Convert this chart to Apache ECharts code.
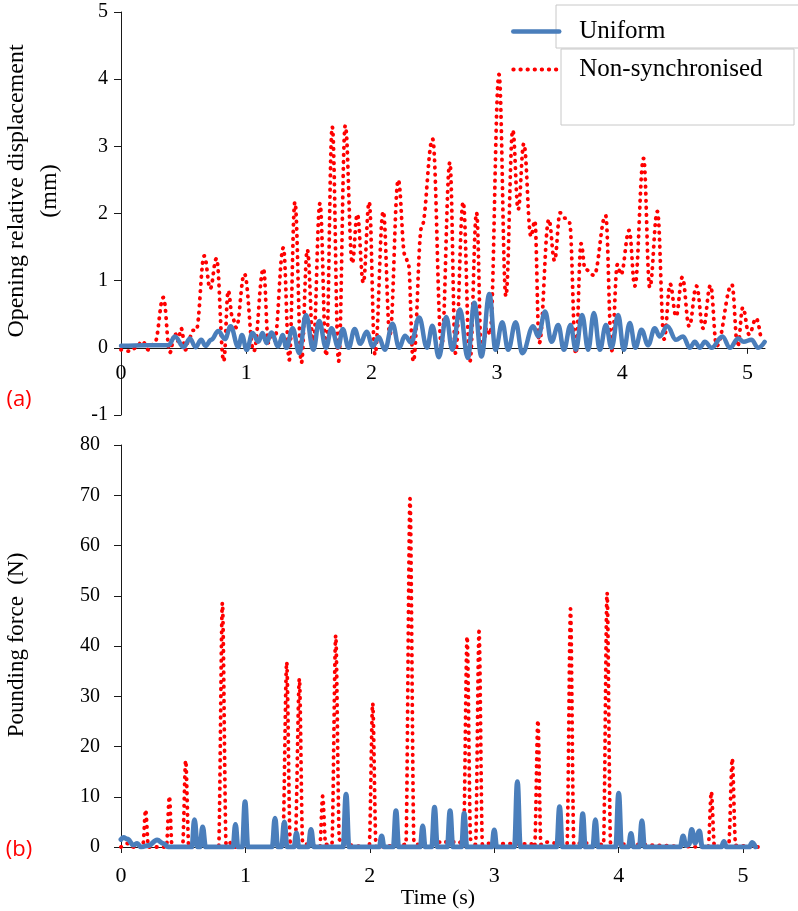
<!DOCTYPE html>
<html>
<head>
<meta charset="utf-8">
<title>Opening displacement and pounding force</title>
<script src="https://cdn.jsdelivr.net/npm/echarts@6/dist/echarts.min.js"></script>
<style>
  html, body { margin: 0; padding: 0; background: #fff; }
  #chart { width: 798px; height: 911px; }
</style>
</head>
<body>
<div id="chart"></div>
<script>
// Series labels
const seriesNames = ['Uniform', 'Non-synchronised'];

// Tick values
const timeTicks = [0, 1, 2, 3, 4, 5];

// (a) Opening relative displacement (mm) versus time (s): [t, value]
const dispUniform = [
  [0, 0.03], [0.2, 0.04], [0.38, 0.04], [0.43, 0.17], [0.5, 0.01], [0.55, 0.14], [0.595, 0.01],
  [0.64, 0.12], [0.675, 0.03], [0.72, 0.12], [0.776, 0.25], [0.83, 0.13], [0.875, 0.32],
  [0.936, 0.01], [0.965, 0.19], [1.003, -0.03], [1.05, 0.22], [1.096, 0.09], [1.13, 0.22],
  [1.162, 0.07], [1.2, 0.23], [1.255, 0.02], [1.29, 0.19], [1.32, 0], [1.37, 0.29],
  [1.423, -0.08], [1.476, 0.49], [1.535, -0.03], [1.582, 0.4], [1.636, 0], [1.68, 0.29],
  [1.734, 0.01], [1.77, 0.28], [1.817, 0.0], [1.865, 0.28], [1.91, 0.06], [1.96, 0.24],
  [2.01, 0.02], [2.057, 0.16], [2.106, -0.03], [2.167, 0.36], [2.22, 0.0], [2.266, 0.18],
  [2.316, 0.08], [2.38, 0.45], [2.442, 0.0], [2.485, 0.33], [2.537, -0.14], [2.596, 0.46],
  [2.644, -0.03], [2.705, 0.57], [2.768, -0.15], [2.82, 0.67], [2.877, -0.13], [2.94, 0.8],
  [2.989, -0.03], [3.043, 0.38], [3.09, -0.03], [3.15, 0.38], [3.203, -0.08], [3.29, 0.32],
  [3.33, 0.17], [3.385, 0.54], [3.436, 0.09], [3.49, 0.34], [3.535, -0.03], [3.588, 0.34],
  [3.63, -0.03], [3.68, 0.49], [3.729, -0.03], [3.774, 0.52], [3.822, -0.03], [3.87, 0.34],
  [3.915, 0], [3.968, 0.49], [4.013, -0.03], [4.061, 0.37], [4.106, 0], [4.154, 0.27],
  [4.207, 0.04], [4.26, 0.29], [4.3, 0.17], [4.36, 0.32], [4.43, 0.12], [4.486, 0.17],
  [4.54, 0], [4.58, 0.09], [4.62, 0], [4.66, 0.09], [4.713, 0], [4.8, 0.17], [4.86, 0],
  [4.926, 0.14], [4.97, 0.09], [5.032, 0.12], [5.085, 0], [5.138, 0.09]
];

const dispNonSync = [
  [0, -0.03], [0.07, -0.05], [0.12, 0], [0.17, 0.1], [0.22, -0.03], [0.27, 0.08], [0.338, 0.75],
  [0.39, -0.07], [0.43, 0.22], [0.455, 0.1], [0.48, 0.29], [0.515, -0.03], [0.54, 0.12],
  [0.575, 0.26], [0.6, 0.26], [0.665, 1.37], [0.712, 0.88], [0.762, 1.33], [0.82, -0.2],
  [0.856, 0.85], [0.89, 0.45], [0.92, 0.3], [0.985, 1.1], [1.06, -0.05], [1.137, 1.18],
  [1.177, 0.07], [1.2, 0.22], [1.225, 0.1], [1.296, 1.49], [1.343, -0.18], [1.388, 2.17],
  [1.44, -0.22], [1.487, 1.46], [1.535, 0.05], [1.588, 2.15], [1.638, -0.12], [1.686, 3.29],
  [1.737, -0.2], [1.79, 3.31], [1.846, 1.26], [1.886, 1.99], [1.934, 0.97], [1.981, 2.17],
  [2.027, -0.1], [2.093, 2.03], [2.146, 0.2], [2.213, 2.5], [2.266, 1.38], [2.293, 1.26],
  [2.333, -0.2], [2.4, 1.8], [2.487, 3.11], [2.559, 0.02], [2.625, 2.76], [2.67, -0.08],
  [2.731, 2.17], [2.785, -0.2], [2.838, 2.01], [2.878, -0.13], [2.92, 0.3], [2.945, 0.2],
  [3.017, 4.07], [3.072, 0.77], [3.127, 3.24], [3.17, 2.06], [3.215, 3.04], [3.272, 1.66],
  [3.303, 1.89], [3.338, 0.07], [3.415, 1.91], [3.46, 1.3], [3.505, 2.01], [3.545, 1.93],
  [3.58, 1.86], [3.63, -0.09], [3.672, 1.55], [3.705, 1.17], [3.775, 1.08], [3.868, 1.97],
  [3.917, -0.04], [3.962, 1.24], [3.99, 1.09], [4.056, 1.75], [4.101, 0.92], [4.171, 2.82],
  [4.22, 0.9], [4.281, 2.03], [4.335, 0.13], [4.383, 0.95], [4.43, 0.47], [4.48, 1.05],
  [4.535, 0.32], [4.593, 0.92], [4.646, 0.29], [4.705, 0.93], [4.754, 0.03], [4.876, 0.94],
  [4.922, 0.02], [4.963, 0.6], [5.013, 0.2], [5.07, 0.44], [5.105, 0.17]
];

// (b) Pounding force (N) versus time (s): [t, value]
const forceUniform = [
  [0, 1.5], [0.02, 1.9], [0.05, 1.6], [0.1, 0.4], [0.13, 0.7], [0.16, 0], [0.22, 0.3],
  [0.29, 1.4], [0.34, 0.7], [0.38, 0], [0.57, 0], [0.59, 5.4], [0.615, 0], [0.635, 0],
  [0.656, 4.0], [0.68, 0], [0.9, 0], [0.92, 4.5], [0.94, 0], [0.975, 0], [0.997, 9.0],
  [1.02, 0], [1.215, 0], [1.238, 5.7], [1.26, 0], [1.29, 0], [1.313, 5.0], [1.335, 0],
  [1.39, 0], [1.41, 2.8], [1.43, 0], [1.505, 0], [1.527, 3.5], [1.55, 0], [1.785, 0],
  [1.809, 10.5], [1.833, 0], [2.075, 0], [2.095, 2.2], [2.115, 0], [2.188, 0], [2.21, 7.2],
  [2.232, 0], [2.405, 0], [2.425, 4.2], [2.445, 0], [2.497, 0], [2.52, 7.9], [2.543, 0],
  [2.622, 0], [2.645, 7.2], [2.668, 0], [2.737, 0], [2.758, 6.7], [2.78, 0], [2.98, 0],
  [3.0, 3.4], [3.02, 0], [3.162, 0], [3.186, 13.0], [3.21, 0], [3.502, 0], [3.525, 8.0],
  [3.548, 0], [3.69, 0], [3.711, 6.6], [3.732, 0], [3.792, 0], [3.813, 5.4], [3.834, 0],
  [3.976, 0], [4.0, 10.7], [4.024, 0], [4.078, 0], [4.099, 2.7], [4.12, 0], [4.166, 0],
  [4.187, 5.2], [4.208, 0], [4.495, 0], [4.518, 2.2], [4.54, 0.3], [4.565, 0.5],
  [4.587, 3.5], [4.615, 0.8], [4.649, 3.2], [4.672, 0], [4.825, 0], [4.846, 1.1],
  [4.867, 0], [5.05, 0], [5.073, 0.9], [5.1, 0]
];

const forceNonSync = [
  [0, 0], [0.05, 0.7], [0.1, 0], [0.175, 0], [0.198, 7.4], [0.22, 0], [0.365, 0],
  [0.389, 10.1], [0.41, 0], [0.495, 0], [0.52, 17.2], [0.545, 0], [0.785, 0], [0.815, 48.6],
  [0.845, 0.5], [0.87, 1], [0.9, 0], [1.3, 0], [1.332, 36.8], [1.36, 1], [1.4, 0.5],
  [1.434, 33.5], [1.46, 0.8], [1.5, 0.5], [1.598, 0], [1.621, 10.1], [1.645, 0.5],
  [1.695, 0.5], [1.726, 42.1], [1.755, 1.5], [1.78, 0.5], [1.995, 0], [2.023, 28.6],
  [2.05, 0], [2.29, 0.5], [2.323, 69.3], [2.355, 1], [2.38, 0.5], [2.58, 1], [2.72, 1],
  [2.752, 0], [2.782, 41.9], [2.81, 1.5], [2.85, 0.5], [2.878, 42.9], [2.905, 0.5],
  [2.93, 0.7], [3.3, 0.6], [3.325, 0], [3.351, 25.2], [3.375, 0.5], [3.4, 1.0], [3.585, 0.5],
  [3.613, 47.4], [3.64, 0.5], [3.71, 0.8], [3.878, 0.5], [3.907, 50.6], [3.935, 0.8],
  [3.97, 0.6], [4.72, 0], [4.745, 11], [4.77, 0], [4.885, 0.5], [4.913, 17.6], [4.94, 0.3],
  [5.12, 0]
];

const SERIF = "'Liberation Serif', 'Times New Roman', serif";
const BLUE = '#4a7ebb';
const RED = '#ff0000';
const AXIS_COLOR = '#1a1a1a';

// time axis; `offset` lifts the top panel's axis up to its zero line
function timeAxis(gridIndex, max, labelMargin, offset) {
  return {
    gridIndex: gridIndex,
    type: 'value',
    position: 'bottom',
    offset: offset,
    min: 0,
    max: max,
    interval: 1,
    splitLine: { show: false },
    axisLine: { show: true, onZero: false, lineStyle: { color: AXIS_COLOR, width: 1 } },
    axisTick: { show: true, length: 6, customValues: timeTicks, lineStyle: { color: AXIS_COLOR } },
    axisLabel: {
      customValues: timeTicks,
      margin: labelMargin,
      color: '#000',
      fontFamily: SERIF,
      fontSize: 22,
      formatter: v => (timeTicks.indexOf(v) >= 0 ? String(v) : '')
    }
  };
}

function valueAxis(gridIndex, min, max, interval, labelMargin) {
  return {
    gridIndex: gridIndex,
    type: 'value',
    min: min,
    max: max,
    interval: interval,
    splitLine: { show: false },
    axisLine: { show: true, onZero: false, lineStyle: { color: AXIS_COLOR, width: 1 } },
    axisTick: { show: true, length: 7, lineStyle: { color: AXIS_COLOR } },
    axisLabel: { margin: labelMargin, color: '#000', fontFamily: SERIF, fontSize: 20 }
  };
}

const solidStyle = (w) => ({ color: BLUE, width: w, cap: 'round', join: 'round' });
const dotStyle = { color: RED, width: 3.8, type: [0.5, 6.6], cap: 'round', join: 'round' };

// the top grid spans -1..5; zero sits 1/6 of its height above the bottom edge
const TOP_GRID = { left: 121, top: 12, width: 644, height: 403 };
const zeroLift = -TOP_GRID.height / 6;

const chart = echarts.init(document.getElementById('chart'), null, { renderer: 'canvas' });

chart.setOption({
  animation: false,
  backgroundColor: '#fff',
  grid: [
    TOP_GRID,
    { left: 121, top: 445, width: 637, height: 402 }
  ],
  xAxis: [timeAxis(0, 5.14, 14, zeroLift), timeAxis(1, 5.12, 18, 0)],
  yAxis: [valueAxis(0, -1, 5, 1, 13), valueAxis(1, 0, 80, 10, 21)],
  legend: {
    data: [
      { name: seriesNames[0], lineStyle: solidStyle(4.5) },
      { name: seriesNames[1], lineStyle: dotStyle }
    ],
    orient: 'vertical',
    left: 511,
    top: 19,
    padding: 0,
    itemWidth: 46,
    itemHeight: 14,
    itemGap: 13,
    z: 10,
    itemStyle: { opacity: 0 },
    textStyle: { fontFamily: SERIF, fontSize: 25, color: '#000', padding: [0, 0, 0, 15] }
  },
  series: [
    {
      name: seriesNames[1], type: 'line', xAxisIndex: 0, yAxisIndex: 0, color: RED,
      data: dispNonSync, symbol: 'none', smooth: 0.4, smoothMonotone: 'x',
      lineStyle: dotStyle, z: 2
    },
    {
      name: seriesNames[0], type: 'line', xAxisIndex: 0, yAxisIndex: 0, color: BLUE,
      data: dispUniform, symbol: 'none', smooth: 0.4, smoothMonotone: 'x',
      lineStyle: solidStyle(4.5), z: 3
    },
    {
      name: seriesNames[1], type: 'line', xAxisIndex: 1, yAxisIndex: 1, color: RED,
      data: forceNonSync, symbol: 'none', smooth: 0.3, smoothMonotone: 'x',
      lineStyle: dotStyle, z: 2
    },
    {
      name: seriesNames[0], type: 'line', xAxisIndex: 1, yAxisIndex: 1, color: BLUE,
      data: forceUniform, symbol: 'none', smooth: 0.4, smoothMonotone: 'x',
      lineStyle: solidStyle(5), z: 3
    }
  ],
  graphic: [
    // legend frames
    {
      type: 'rect', z: 5,
      shape: { x: 556, y: 5, width: 250, height: 43 },
      style: { fill: '#fff', stroke: '#c8c8c8', lineWidth: 1 }
    },
    {
      type: 'rect', z: 6,
      shape: { x: 561, y: 49, width: 233, height: 76 },
      style: { fill: '#fff', stroke: '#c8c8c8', lineWidth: 1 }
    },
    // axis titles
    {
      type: 'text', x: 17, y: 191, rotation: Math.PI / 2,
      style: { text: 'Opening relative displacement', font: "24px " + SERIF, fill: '#000',
               textAlign: 'center', textVerticalAlign: 'middle' }
    },
    {
      type: 'text', x: 50, y: 191, rotation: Math.PI / 2,
      style: { text: '(mm)', font: "24px " + SERIF, fill: '#000',
               textAlign: 'center', textVerticalAlign: 'middle' }
    },
    {
      type: 'text', x: 17, y: 645, rotation: Math.PI / 2,
      style: { text: 'Pounding force  (N)', font: "23px " + SERIF, fill: '#000',
               textAlign: 'center', textVerticalAlign: 'middle' }
    },
    {
      type: 'text', x: 438, y: 898,
      style: { text: 'Time (s)', font: "22px " + SERIF, fill: '#000',
               textAlign: 'center', textVerticalAlign: 'middle' }
    },
    // panel letters
    {
      type: 'text', x: 19, y: 400,
      style: { text: '(a)', font: "22px 'Open Sans', sans-serif", fill: '#ff0000',
               textAlign: 'center', textVerticalAlign: 'middle' }
    },
    {
      type: 'text', x: 19, y: 850,
      style: { text: '(b)', font: "22px 'Open Sans', sans-serif", fill: '#ff0000',
               textAlign: 'center', textVerticalAlign: 'middle' }
    }
  ]
});
</script>
</body>
</html>
